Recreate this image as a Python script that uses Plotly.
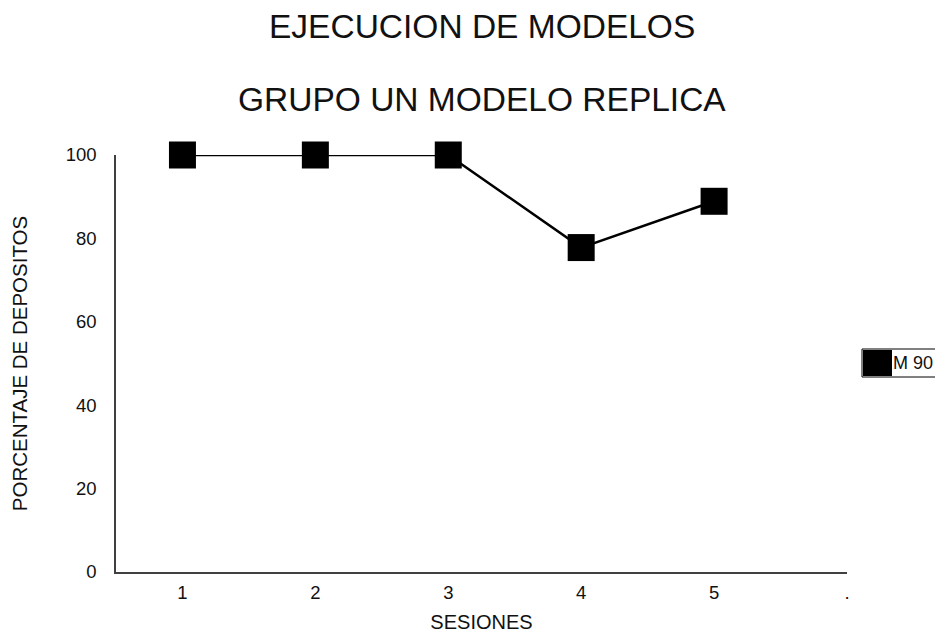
import plotly.graph_objects as go

sessions = [1, 2, 3, 4, 5]
porcentaje = [100, 100, 100, 77.8, 88.9]
x_tickvals = [1, 2, 3, 4, 5, 6]
x_ticktext = ["1", "2", "3", "4", "5", "."]
y_tickvals = [0, 20, 40, 60, 80, 100]
series_name = "M 90"

# page has an 8px body margin; plot area in page coords: x 116..847, y 155..572
OFF = 8
PL, PT, PR, PB = 116, 155, 847, 572
W, H = 943 - OFF, 637 - OFF
L, T = PL - OFF, PT - OFF
R = W - (PR - OFF)
B = H - (PB - OFF)
pw, ph = PR - PL, PB - PT

def px_x(p):
    return (p - PL) / pw

def px_y(p):
    return (PB - p) / ph

fig = go.Figure()
fig.add_trace(go.Scatter(
    x=sessions, y=porcentaje, mode="lines+markers", name=series_name,
    line=dict(color="black", width=2.5),
    marker=dict(symbol="square", size=27, color="black"),
    cliponaxis=False,
    showlegend=False,
))

font = "Liberation Sans, Arial, sans-serif"
fig.update_layout(
    width=W, height=H,
    margin=dict(l=L, r=R, t=T, b=B),
    paper_bgcolor="white", plot_bgcolor="white",
    font=dict(family=font, color="#111", size=18),
    xaxis=dict(range=[0.5, 6], tickvals=x_tickvals, ticktext=x_ticktext,
               showgrid=False, zeroline=False, showline=True,
               linecolor="#404040", linewidth=1.5, ticks="",
               tickfont=dict(size=18.5), ticklabelstandoff=3,
               automargin=False,
               title=dict(text="SESIONES", font=dict(size=20), standoff=13)),
    yaxis=dict(range=[0, 100], tickvals=y_tickvals,
               showgrid=False, zeroline=False, showline=True,
               linecolor="#404040", linewidth=1.5, ticks="",
               tickfont=dict(size=18.5), ticklabelstandoff=14,
               automargin=False,
               title=dict(text="PORCENTAJE DE DEPOSITOS", font=dict(size=20.5), standoff=32)),
    annotations=[
        dict(text="EJECUCION DE MODELOS", xref="paper", yref="paper",
             x=0.5, y=px_y(27), xanchor="center", yanchor="middle",
             showarrow=False, font=dict(size=33.5, color="#111")),
        dict(text="GRUPO UN MODELO REPLICA", xref="paper", yref="paper",
             x=0.5, y=px_y(100), xanchor="center", yanchor="middle",
             showarrow=False, font=dict(size=33.5, color="#111")),
        dict(text=series_name, xref="paper", yref="paper",
             x=px_x(891), y=px_y(363), xanchor="left", yanchor="middle",
             showarrow=False, font=dict(size=18, color="#111")),
    ],
    shapes=[
        dict(type="rect", xref="paper", yref="paper",
             x0=px_x(862), x1=px_x(941), y0=px_y(377), y1=px_y(349),
             line=dict(color="black", width=1), fillcolor="rgba(0,0,0,0)"),
        dict(type="rect", xref="paper", yref="paper",
             x0=px_x(863), x1=px_x(892), y0=px_y(376), y1=px_y(350),
             line=dict(color="black", width=0), fillcolor="black"),
    ],
)

fig.write_html("out.html")
